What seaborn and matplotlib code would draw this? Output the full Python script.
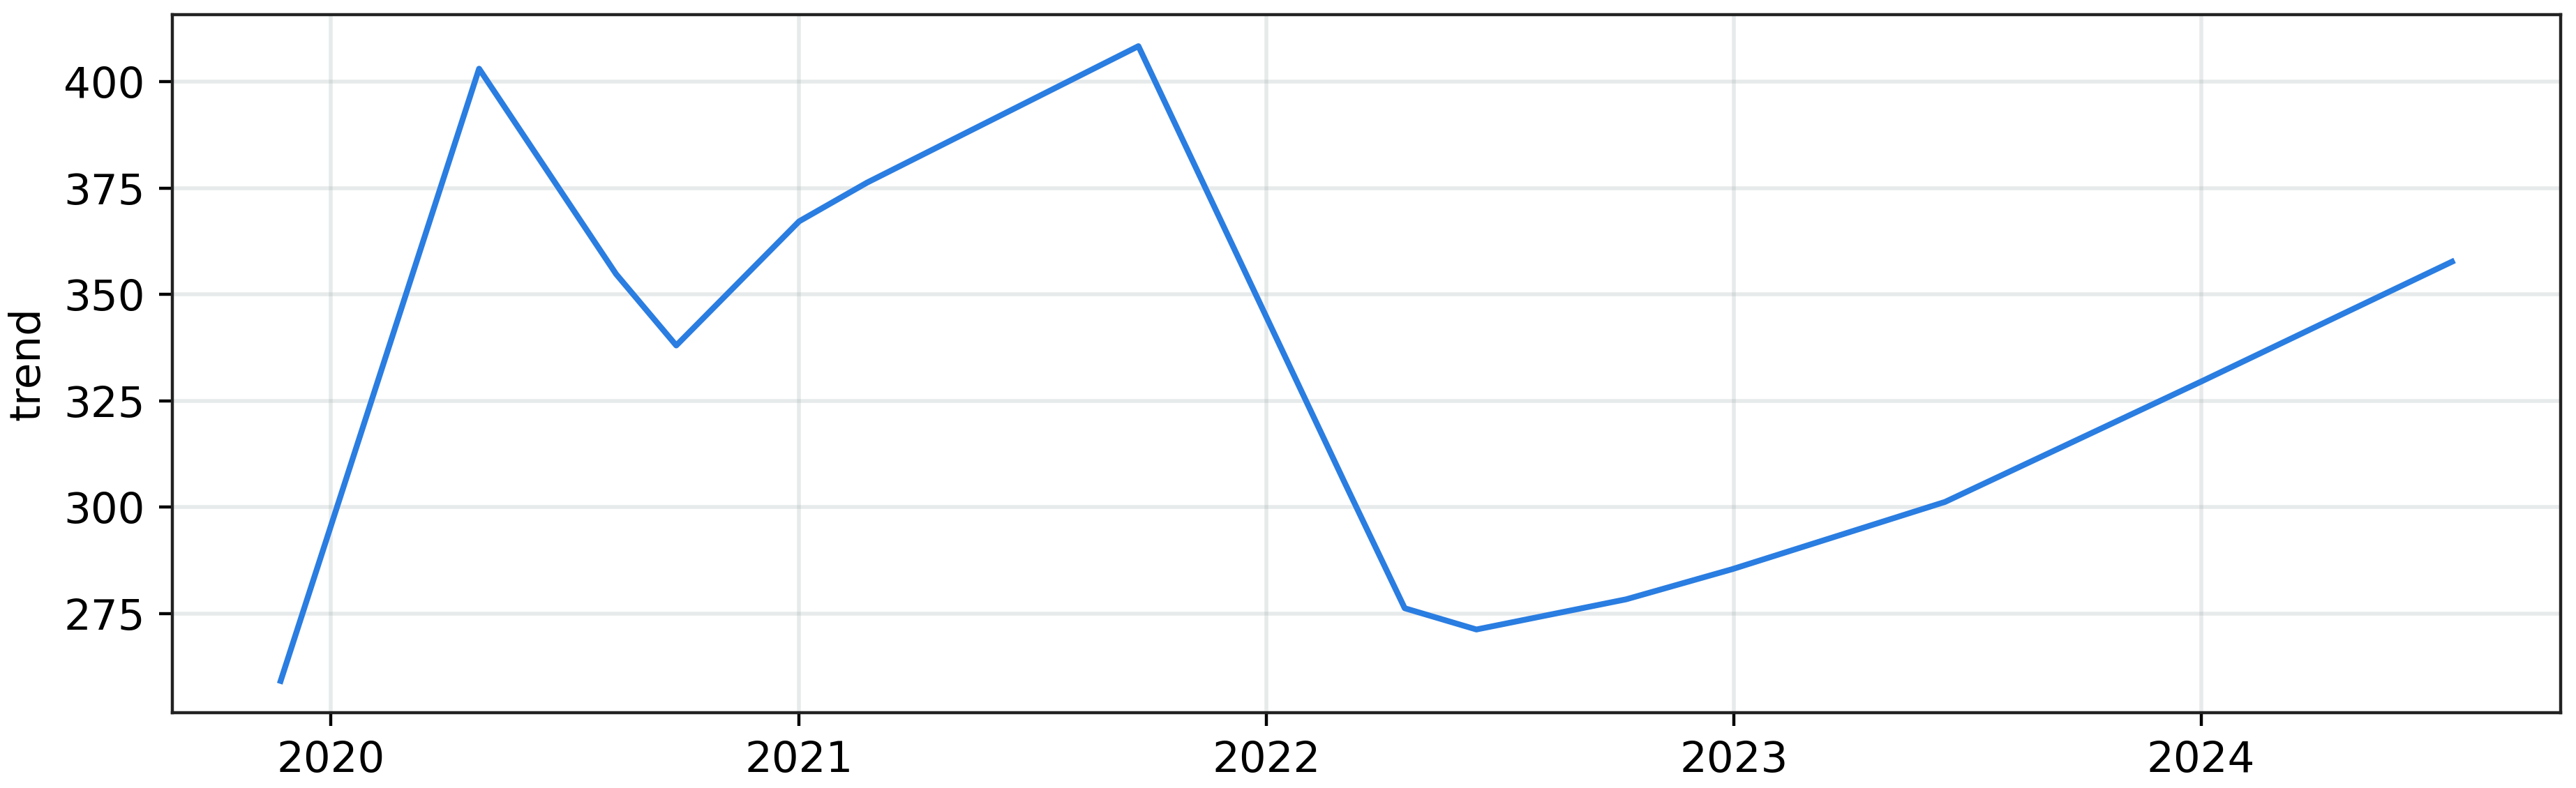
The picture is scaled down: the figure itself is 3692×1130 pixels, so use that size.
import pandas as pd
import matplotlib as mpl
mpl.use("Agg")
import matplotlib.pyplot as plt
import matplotlib.dates as mdates
import seaborn as sns

# trend component
dates = ["2019-11-23", "2020-04-26", "2020-08-11", "2020-09-27", "2021-01-01",
         "2021-02-23", "2021-09-23", "2022-03-03", "2022-04-19", "2022-06-14",
         "2022-10-09", "2022-12-31", "2023-06-15", "2024-01-01", "2024-07-15"]
trend = [259.1, 403.1, 354.8, 338.0, 367.2,
         376.3, 408.4, 305.8, 276.2, 271.2,
         278.3, 285.4, 301.2, 329.5, 357.7]

df = pd.DataFrame({"ds": pd.to_datetime(dates), "trend": trend})

plt.rcParams["font.family"] = ["DejaVu Sans"]
plt.rcParams["font.size"] = 11

fig = plt.figure(figsize=(3692 / 400, 1130 / 400), dpi=400)
ax = fig.add_axes([0.0668, 0.0956, 0.994 - 0.0668, 0.9817 - 0.0956])

sns.lineplot(data=df, x="ds", y="trend", ax=ax, color="#2a7de1", linewidth=1.5)

ax.grid(True, which="major", c="#8a9a9a", ls="-", lw=1, alpha=0.2)
ax.set_yticks([275, 300, 325, 350, 375, 400])
ax.xaxis.set_major_locator(mdates.YearLocator())
ax.xaxis.set_major_formatter(mdates.DateFormatter("%Y"))
for s in ax.spines.values():
    s.set_color("#222222")
ax.set_xlabel("")
ax.set_ylabel("trend")

fig.savefig("out.png", dpi=400)
